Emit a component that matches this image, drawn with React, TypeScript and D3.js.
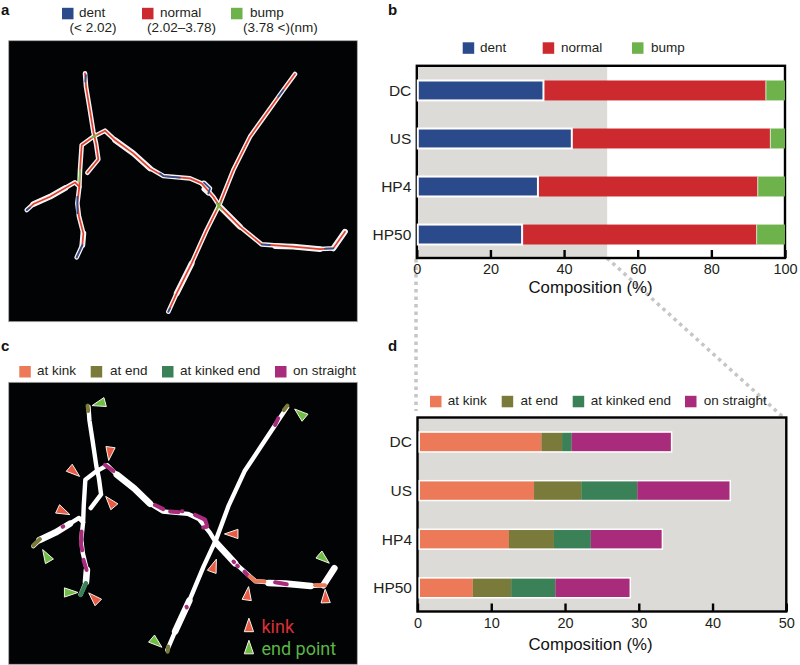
import { useEffect, useRef } from "react";
import * as d3 from "d3";

const FONT = "'Liberation Sans', Arial, sans-serif";

const samples = ["DC", "US", "HP4", "HP50"];

// panel b, percent of contour length
const heightKeys = ["dent", "normal", "bump"];
const dentValues = [34.4, 42.1, 32.9, 28.6];
const normalValues = [60.4, 53.9, 59.7, 63.7];
const bumpValues = [5.2, 4.0, 7.4, 7.7];
const heightColors = ["#2b4a8b", "#cd2a2f", "#6db24a"];
const heightRanges = ["(< 2.02)", "(2.02–3.78)", "(3.78 <)(nm)"];

// panel d, percent of contour length
const dentKeys = ["at kink", "at end", "at kinked end", "on straight"];
const atKinkValues = [16.8, 15.8, 12.4, 7.5];
const atEndValues = [2.8, 6.4, 6.1, 5.2];
const atKinkedEndValues = [1.3, 7.6, 5.0, 6.0];
const onStraightValues = [13.45, 12.5, 9.6, 10.05];
const dentColors = ["#ec7a58", "#7a7a3a", "#3b8158", "#a92b7b"];

const ticksB = [0, 20, 40, 60, 80, 100];
const ticksD = [0, 10, 20, 30, 40, 50];
const grayLimit = 51.7;

type Pt = [number, number];

// filament traces in image units (image is 1046 x 843)
const filaments: Pt[][] = [
  [[229, 98], [232, 138], [242, 198], [254, 273], [262, 308], [269, 356], [236, 396]],
  [[204, 650], [221, 613], [224, 578], [211, 528], [206, 488], [212, 438], [214, 388], [219, 313], [254, 288], [289, 270], [319, 298], [374, 338], [424, 383], [464, 406], [544, 413], [579, 428], [614, 468], [634, 498], [694, 558], [759, 611], [854, 618], [934, 625], [974, 623], [1009, 573]],
  [[54, 508], [74, 490], [124, 468], [199, 425], [212, 438]],
  [[479, 813], [504, 758], [549, 668], [594, 568], [634, 488], [674, 388], [724, 288], [774, 218], [824, 148], [859, 100]],
];
const loopTrace: Pt[] = [[579, 428], [586, 426], [604, 443], [599, 458], [585, 445]];

// stretches where the filament looks wider
const thickRuns: Pt[][] = [
  [[319, 298], [374, 338], [424, 383]],
  [[634, 498], [694, 558]],
  [[800, 616], [854, 618], [934, 625]],
  [[974, 623], [1009, 573]],
  [[74, 490], [124, 468], [170, 442]],
  [[504, 758], [549, 668]],
  [[224, 578], [221, 613]],
];

const dentRuns: Pt[][] = [
  [[232, 103], [230, 123]],
  [[206, 468], [206, 518]],
  [[221, 613], [204, 650]],
  [[454, 398], [464, 406], [514, 411]],
  [[586, 426], [604, 443], [599, 458]],
  [[759, 611], [784, 613]],
  [[949, 624], [974, 623]],
  [[824, 148], [809, 168]],
  [[479, 813], [484, 803]],
  [[64, 500], [54, 508]],
];
const bumpRuns: Pt[][] = [
  [[214, 388], [212, 423]],
  [[249, 291], [264, 283]],
  [[624, 488], [639, 506]],
  [[624, 506], [636, 486]],
];

// panel c overlays on the same traces
const straightRuns: Pt[][] = [
  [[281, 269], [308, 287]],
  [[440, 387], [466, 399]],
  [[488, 406], [514, 408]],
  [[525, 405], [527, 405]],
  [[567, 416], [599, 430], [606, 450], [593, 453]],
  [[147, 451], [149, 450]],
  [[207, 465], [205, 500], [209, 520]],
  [[213, 548], [223, 578]],
  [[689, 553], [691, 555]],
  [[701, 565], [703, 567]],
  [[724, 583], [736, 595]],
  [[821, 614], [858, 620]],
  [[831, 132], [821, 152]],
  [[540, 686], [541, 688]],
];
const kinkRuns: Pt[][] = [
  [[741, 597], [757, 610], [787, 612]],
  [[948, 623], [979, 623]],
];
const endRuns: Pt[][] = [
  [[226, 95], [228, 111]],
  [[860, 95], [849, 108]],
  [[75, 487], [54, 506]],
  [[482, 803], [480, 818]],
];
const kinkedEndRuns: Pt[][] = [[[221, 617], [204, 651]]];

// triangle markers: x, y, direction of the tip in degrees
const kinkMarks: [number, number, number][] = [
  [297, 230, 98], [179, 286, 40], [302, 382, -130], [144, 404, 25], [689, 472, 180],
  [625, 571, -70], [733, 653, -82], [981, 661, -92], [250, 664, -135],
];
const endMarks: [number, number, number][] = [
  [268, 88, 165], [905, 122, -140], [98, 541, -120], [167, 644, 0], [440, 788, 40], [971, 541, 40],
];

export default function App() {
  const svgRef = useRef<SVGSVGElement>(null);

  useEffect(() => {
    if (!svgRef.current) return;
    const svg = d3.select(svgRef.current);
    svg.selectAll("*").remove();

    const addText = (x: number, y: number, s: string, size = 13.5, fill = "#231f20", anchor = "start", weight = "normal") =>
      svg
        .append("text")
        .attr("x", x)
        .attr("y", y)
        .attr("font-size", size)
        .attr("fill", fill)
        .attr("text-anchor", anchor)
        .attr("font-weight", weight)
        .text(s);

    const addSwatch = (x: number, y: number, color: string) =>
      svg.append("rect").attr("x", x).attr("y", y).attr("width", 11.5).attr("height", 11.5).attr("fill", color);

    addText(1, 15, "a", 15, "#111", "start", "bold");
    addText(388, 15, "b", 15, "#111", "start", "bold");
    addText(1, 351, "c", 15, "#111", "start", "bold");
    addText(388, 351, "d", 15, "#111", "start", "bold");

    // zoom connectors between b and d
    const connector = d3.line();
    svg
      .append("path")
      .attr("d", connector([[416, 259], [416, 411]]))
      .attr("fill", "none")
      .attr("stroke", "#c6c6c6")
      .attr("stroke-width", 3.5)
      .attr("stroke-dasharray", "3.5 4");
    svg
      .append("path")
      .attr("d", connector([[607, 258], [783, 417]]))
      .attr("fill", "none")
      .attr("stroke", "#c6c6c6")
      .attr("stroke-width", 3.5)
      .attr("stroke-dasharray", "3.5 4");

    // ---- image panels a and c
    const traceLine = (x: d3.ScaleLinear<number, number>, y: d3.ScaleLinear<number, number>) =>
      d3
        .line<Pt>()
        .x((d) => x(d[0]))
        .y((d) => y(d[1]));

    const drawRuns = (line: d3.Line<Pt>, runs: Pt[][], color: string, width: number) => {
      runs.forEach((run) => {
        svg
          .append("path")
          .attr("d", line(run))
          .attr("fill", "none")
          .attr("stroke", color)
          .attr("stroke-width", width)
          .attr("stroke-linecap", "round")
          .attr("stroke-linejoin", "round");
      });
    };

    const xA = d3.scaleLinear().domain([0, 1046]).range([8.7, 357.3]);
    const yA = d3.scaleLinear().domain([0, 843]).range([40.7, 321.7]);
    const lineA = traceLine(xA, yA);

    svg
      .append("rect")
      .attr("x", 8.7)
      .attr("y", 40.7)
      .attr("width", 348.6)
      .attr("height", 281)
      .attr("fill", "#010305")
      .attr("stroke", "#aaa")
      .attr("stroke-width", 0.8);
    drawRuns(lineA, [...filaments, loopTrace], "#f4f4f6", 4.6);
    drawRuns(lineA, thickRuns, "#f4f4f6", 5.8);
    drawRuns(lineA, filaments, "#e2402c", 1.7);
    drawRuns(lineA, dentRuns, "#2f4e8e", 1.8);
    drawRuns(lineA, bumpRuns, "#74c045", 1.6);

    const xC = d3.scaleLinear().domain([0, 1046]).range([16.3, 346]);
    const yC = d3.scaleLinear().domain([0, 843]).range([373.3, 660.2]);
    const lineC = traceLine(xC, yC);

    svg
      .append("rect")
      .attr("x", 8.7)
      .attr("y", 382.3)
      .attr("width", 348.6)
      .attr("height", 282)
      .attr("fill", "#010305")
      .attr("stroke", "#aaa")
      .attr("stroke-width", 0.8);
    drawRuns(lineC, filaments, "#ffffff", 4.4);
    drawRuns(lineC, thickRuns, "#ffffff", 6.6);
    drawRuns(lineC, straightRuns, dentColors[3], 4);
    drawRuns(lineC, kinkRuns, dentColors[0], 4);
    drawRuns(lineC, endRuns, dentColors[1], 4);
    drawRuns(lineC, kinkedEndRuns, dentColors[2], 4.5);

    const triangle = d3.symbol().type(d3.symbolTriangle).size(58)();
    const drawMarks = (marks: [number, number, number][], color: string) => {
      svg
        .append("g")
        .selectAll("path")
        .data(marks)
        .enter()
        .append("path")
        .attr("d", triangle)
        .attr(
          "transform",
          (d) => `translate(${xC(d[0])},${yC(d[1])}) rotate(${d[2] + 90}) scale(0.8,1.35)`
        )
        .attr("fill", color)
        .attr("stroke", "#f5f1e8")
        .attr("stroke-width", 1)
        .attr("vector-effect", "non-scaling-stroke");
    };
    drawMarks(kinkMarks, "#ea5b45");
    drawMarks(endMarks, "#6fbe44");
    drawMarks([[738, 746, -90]], "#ea5b45");
    drawMarks([[738, 811, -90]], "#6fbe44");
    addText(261.5, 633, "kink", 18, "#dc2f35").attr("font-family", "Roboto, sans-serif");
    addText(261.5, 654.5, "end point", 18, "#5cb545").attr("font-family", "Roboto, sans-serif");

    // ---- legends
    [62, 142, 231].forEach((x, i) => addSwatch(x, 7.8, heightColors[i]));
    [79, 160, 250].forEach((x, i) => addText(x, 17, heightKeys[i]));
    [69.5, 147, 243].forEach((x, i) => addText(x, 32, heightRanges[i]));

    [462.7, 542.7, 632].forEach((x, i) => addSwatch(x, 42.3, heightColors[i]));
    [480, 561, 651].forEach((x, i) => addText(x, 52, heightKeys[i]));

    [19.3, 90.7, 162, 275].forEach((x, i) => addSwatch(x, 366, dentColors[i]));
    [37, 110, 180, 293].forEach((x, i) => addText(x, 375, dentKeys[i]));

    [430, 501.7, 572.7, 685].forEach((x, i) => addSwatch(x, 395.8, dentColors[i]));
    [447.7, 520.5, 590.7, 703.7].forEach((x, i) => addText(x, 405, dentKeys[i]));

    // ---- stacked bar panels
    const drawBars = (opts: {
      keys: string[];
      columns: number[][];
      colors: string[];
      domainMax: number;
      ticks: number[];
      frame: { x0: number; x1: number; y0: number; y1: number };
      band: [number, number];
      padding: number;
      grayTo: number;
      outlineLast: boolean;
      barInset: number;
      labelY: number;
    }) => {
      const { frame } = opts;
      const x = d3.scaleLinear().domain([0, opts.domainMax]).range([frame.x0, frame.x1]);
      const y = d3.scaleBand<string>().domain(samples).range(opts.band).paddingInner(opts.padding);

      const rows = samples.map((s, i) => {
        const row: Record<string, number | string> = { sample: s };
        opts.keys.forEach((k, j) => (row[k] = opts.columns[j][i]));
        return row;
      });
      const stacked = d3.stack<any>().keys(opts.keys)(rows);

      svg
        .append("rect")
        .attr("x", frame.x0)
        .attr("y", frame.y0)
        .attr("width", x(opts.grayTo) - frame.x0)
        .attr("height", frame.y1 - frame.y0)
        .attr("fill", "#dcdbd7");
      svg
        .append("rect")
        .attr("x", frame.x0)
        .attr("y", frame.y0)
        .attr("width", frame.x1 - frame.x0)
        .attr("height", frame.y1 - frame.y0)
        .attr("fill", "none")
        .attr("stroke", "#000")
        .attr("stroke-width", 2.4);

      const axis = svg
        .append("g")
        .attr("transform", `translate(0,${frame.y1})`)
        .call(d3.axisBottom(x).tickValues(opts.ticks).tickSize(-8).tickPadding(6).tickFormat(d3.format("d") as any));
      axis.select(".domain").remove();
      axis.selectAll("line").attr("stroke", "#000").attr("stroke-width", 2.4);
      axis
        .selectAll("text")
        .attr("fill", "#231f20")
        .attr("font-size", 14.5)
        .attr("font-family", FONT);

      const left = x(0) + opts.barInset;

      // white outline behind the bars
      if (opts.outlineLast) {
        svg
          .append("g")
          .selectAll("rect")
          .data(samples)
          .enter()
          .append("rect")
          .attr("x", left)
          .attr("y", (d) => y(d)!)
          .attr("height", y.bandwidth())
          .attr("width", (_, i) => x(stacked[stacked.length - 1][i][1]) - left)
          .attr("fill", "none")
          .attr("stroke", "#fff")
          .attr("stroke-width", 3);
      }

      stacked.forEach((series, j) => {
        svg
          .append("g")
          .selectAll("rect")
          .data(series)
          .enter()
          .append("rect")
          .attr("x", (d) => Math.max(x(d[0]), left))
          .attr("y", (_, i) => y(samples[i])!)
          .attr("width", (d) => x(d[1]) - Math.max(x(d[0]), left))
          .attr("height", y.bandwidth())
          .attr("fill", opts.colors[j]);
      });

      // dent segment gets its own white border in b
      if (!opts.outlineLast) {
        svg
          .append("g")
          .selectAll("rect")
          .data(stacked[0])
          .enter()
          .append("rect")
          .attr("x", left)
          .attr("y", (_, i) => y(samples[i])!)
          .attr("width", (d) => x(d[1]) - left)
          .attr("height", y.bandwidth())
          .attr("fill", "none")
          .attr("stroke", "#fff")
          .attr("stroke-width", 2);
        svg
          .append("g")
          .selectAll("rect")
          .data(stacked[1])
          .enter()
          .append("rect")
          .attr("x", (d) => x(d[1]) - 0.4)
          .attr("y", (_, i) => y(samples[i])!)
          .attr("width", 0.9)
          .attr("height", y.bandwidth())
          .attr("fill", "#dfe8d8");
      }

      samples.forEach((s) => {
        addText(frame.x0 - 5.5, y(s)! + y.bandwidth() / 2 + 5.5, s, 15.5, "#231f20", "end");
      });
      addText(590.5, opts.labelY, "Composition (%)", 16.8, "#111", "middle");
    };

    drawBars({
      keys: heightKeys,
      columns: [dentValues, normalValues, bumpValues],
      colors: heightColors,
      domainMax: 100,
      ticks: ticksB,
      frame: { x0: 416.8, x1: 785, y0: 65.8, y1: 258 },
      band: [80.5, 244.5],
      padding: 0.585,
      grayTo: grayLimit,
      outlineLast: false,
      barInset: 1,
      labelY: 293,
    });

    drawBars({
      keys: dentKeys,
      columns: [atKinkValues, atEndValues, atKinkedEndValues, onStraightValues],
      colors: dentColors,
      domainMax: 50,
      ticks: ticksD,
      frame: { x0: 417.5, x1: 786.3, y0: 417.5, y1: 611.5 },
      band: [432.8, 597],
      padding: 0.622,
      grayTo: 50,
      outlineLast: true,
      barInset: 2.5,
      labelY: 650,
    });

    svg.selectAll("text").attr("font-family", function () {
      return d3.select(this).attr("font-family") || FONT;
    });
  }, []);

  return (
    <svg
      ref={svgRef}
      width={800}
      height={665}
      style={{ position: "absolute", left: 0, top: 0, background: "#fff" }}
    />
  );
}
